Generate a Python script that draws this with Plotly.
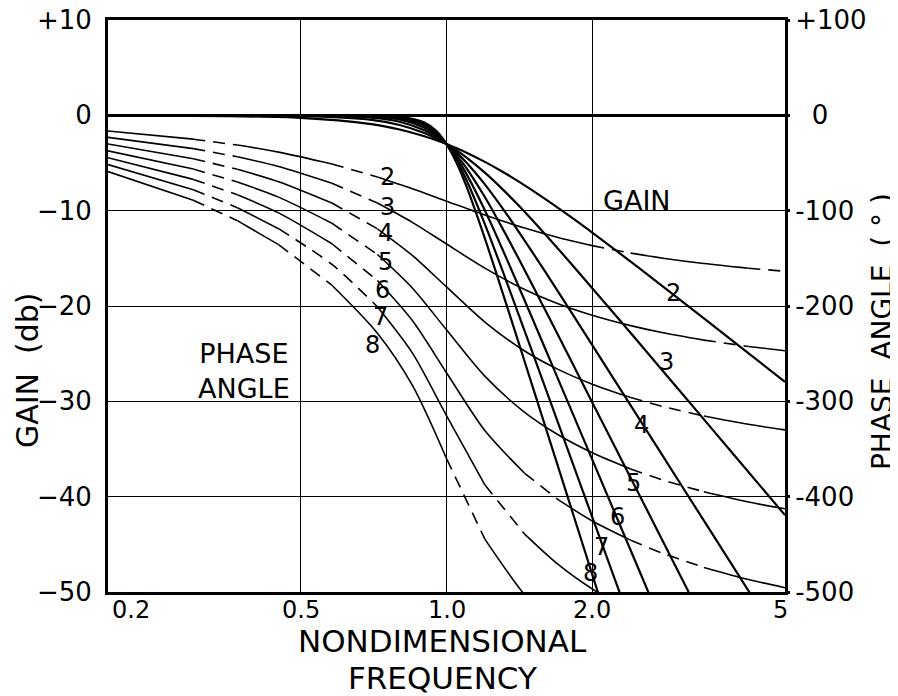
import math
import plotly.graph_objects as go

# ---------------- data ----------------
ORDERS = [2, 3, 4, 5, 6, 7, 8]

# Gain curves (dB) vs nondimensional frequency
GAIN_FREQ = [0.2, 0.5, 0.7, 0.8, 0.9, 0.95, 1.0, 1.05, 1.1, 1.2, 1.3, 1.4, 1.6, 1.8, 2.0, 2.5, 3.0, 4.0, 5.0]
GAIN_2 = [-0.01, -0.26, -0.93, -1.49, -2.19, -2.59, -3.01, -3.46, -3.92, -4.88, -5.86, -6.85, -8.78, -10.60, -12.30, -16.03, -19.14, -24.10, -27.97]
GAIN_3 = [0.0, -0.07, -0.48, -1.01, -1.85, -2.39, -3.01, -3.69, -4.43, -6.01, -7.66, -9.31, -12.50, -15.44, -18.13, -23.89, -28.63, -36.13, -41.94]
GAIN_4 = [0.0, -0.02, -0.24, -0.67, -1.56, -2.21, -3.01, -3.94, -4.97, -7.24, -9.62, -11.98, -16.43, -20.46, -24.10, -31.84, -38.17, -48.16, -55.92]
GAIN_5 = [0.0, 0.0, -0.12, -0.44, -1.30, -2.04, -3.01, -4.20, -5.56, -8.57, -11.70, -14.76, -20.45, -25.54, -30.11, -39.79, -47.71, -60.21]
GAIN_6 = [0.0, 0.0, -0.06, -0.29, -1.08, -1.88, -3.01, -4.47, -6.17, -9.96, -13.86, -17.61, -24.51, -30.64, -36.12, -47.75, -57.25]
GAIN_7 = [0.0, 0.0, -0.03, -0.19, -0.90, -1.73, -3.01, -4.74, -6.81, -11.41, -16.06, -20.50, -28.58, -35.74, -42.14, -55.71]
GAIN_8 = [0.0, 0.0, -0.01, -0.12, -0.74, -1.58, -3.01, -5.03, -7.48, -12.90, -18.30, -23.40, -32.66, -40.84, -48.17, -63.67]

# Phase curves (degrees) vs nondimensional frequency
PHASE_FREQ = [0.2, 0.3, 0.37, 0.45, 0.58, 0.72, 0.85, 1.0, 1.2, 1.45, 1.7, 2.0, 2.4, 2.8, 3.4, 4.2, 5.0]
PHASE_2 = [-16.4, -25.0, -31.2, -38.6, -51.0, -64.7, -77.0, -90.0, -104.5, -118.3, -128.2, -136.7, -144.5, -149.9, -155.5, -160.4, -163.6]
PHASE_3 = [-23.1, -34.9, -43.5, -53.7, -71.3, -92.0, -112.3, -135.0, -160.3, -182.7, -197.6, -209.7, -220.6, -228.1, -235.8, -242.4, -246.9]
PHASE_4 = [-30.1, -45.5, -56.6, -69.6, -92.0, -119.0, -146.9, -180.0, -216.8, -247.2, -266.5, -282.0, -295.9, -305.5, -315.4, -324.1, -329.9]
PHASE_5 = [-37.3, -56.3, -69.9, -85.8, -113.2, -146.0, -181.1, -225.0, -273.6, -311.5, -335.0, -353.9, -370.9, -382.6, -394.8, -405.5, -412.7]
PHASE_6 = [-44.5, -67.2, -83.4, -102.3, -134.7, -173.3, -215.2, -270.0, -330.6, -375.5, -403.1, -425.5, -445.6, -459.6, -474.2, -486.9, -495.5]
PHASE_7 = [-51.7, -78.1, -96.9, -118.9, -156.4, -200.8, -249.2, -315.0, -387.6, -439.3, -471.1, -496.9, -520.3]
PHASE_8 = [-59.0, -89.1, -110.5, -135.6, -178.2, -228.5, -283.1, -360.0, -444.5, -503.0, -539.0]

GAIN_TICKS = [-50, -40, -30, -20, -10, 0, 10]
GAIN_TICK_TEXT = ["\u221250", "\u221240", "\u221230", "\u221220", "\u221210", "0", "+10"]
PHASE_TICKS = [-500, -400, -300, -200, -100, 0, 100]
PHASE_TICK_TEXT = ["-500", "-400", "-300", "-200", "-100", "\u00a0\u00a00", "+100"]
FREQ_TICKS = [0.2, 0.5, 1.0, 2.0, 5.0]
FREQ_TICK_TEXT = ["0.2", "0.5", "1.0", "2.0", "5"]

GAINS = {2: GAIN_2, 3: GAIN_3, 4: GAIN_4, 5: GAIN_5, 6: GAIN_6, 7: GAIN_7, 8: GAIN_8}
PHASES = {2: PHASE_2, 3: PHASE_3, 4: PHASE_4, 5: PHASE_5, 6: PHASE_6, 7: PHASE_7, 8: PHASE_8}

# ---------------- styling (where the drafted phase lines are broken) ----------------
PHASE_DASHED = {
    2: [(0.3, 0.37), (0.58, 0.72), (2.0, 2.4), (4.2, 5.0)],
    3: [(0.3, 0.37), (0.58, 0.72), (3.4, 4.2)],
    4: [(0.3, 0.37), (0.58, 0.72), (2.4, 3.4)],
    5: [(0.3, 0.37), (0.58, 0.72), (2.4, 3.4)],
    6: [(0.3, 0.37), (0.58, 0.72), (1.45, 1.7), (2.4, 3.4)],
    7: [(0.3, 0.37), (0.45, 0.72), (1.2, 1.45)],
    8: [(0.3, 0.37), (0.45, 0.58), (1.0, 1.2)],
}

# label positions (frequency, gain dB / phase deg)
PHASE_LABEL_POS = {2: (0.754, -65), 3: (0.757, -96), 4: (0.747, -123), 5: (0.747, -154),
                   6: (0.739, -183), 7: (0.729, -212), 8: (0.705, -241)}
GAIN_LABEL_POS = {2: (2.94, -18.6), 3: (2.85, -25.9), 4: (2.53, -32.5), 5: (2.43, -38.6),
                  6: (2.26, -42.1), 7: (2.09, -45.3), 8: (1.98, -48.0)}
# frequency tick labels at the plot ends are nudged inward, as drawn
FREQ_LABEL_X = {0.2: 0.223, 0.5: 0.5, 1.0: 1.0, 2.0: 2.0, 5.0: 4.9}

FONT = "DejaVu Sans"
BLACK = "#000000"
LABEL_SIZE = 24

fig = go.Figure()

# gain curves
for n in ORDERS:
    vals = GAINS[n]
    fig.add_trace(go.Scatter(
        x=GAIN_FREQ[:len(vals)], y=vals, mode="lines",
        line=dict(color=BLACK, width=2.2, shape="spline", smoothing=0.8),
        yaxis="y", hoverinfo="skip", showlegend=False))


def split_segments(freqs, vals, dashed):
    cuts = [0]
    for lo, hi in dashed:
        for b in (lo, hi):
            if b in freqs:
                i = freqs.index(b)
                if 0 < i < len(freqs) - 1:
                    cuts.append(i)
    cuts.append(len(freqs) - 1)
    cuts = sorted(set(cuts))
    segs = []
    for a, b in zip(cuts[:-1], cuts[1:]):
        is_dash = any(lo <= freqs[a] and freqs[b] <= hi for lo, hi in dashed)
        segs.append((freqs[a:b + 1], vals[a:b + 1], is_dash))
    return segs


# phase curves
for n in ORDERS:
    vals = PHASES[n]
    freqs = PHASE_FREQ[:len(vals)]
    for xs, ys, is_dash in split_segments(freqs, vals, PHASE_DASHED[n]):
        fig.add_trace(go.Scatter(
            x=xs, y=ys, mode="lines", yaxis="y2",
            line=dict(color=BLACK, width=1.6, shape="spline", smoothing=0.8,
                      dash="12px,8px" if is_dash else "solid"),
            hoverinfo="skip", showlegend=False))

annotations = []
for n in ORDERS:
    fx, py = PHASE_LABEL_POS[n]
    annotations.append(dict(x=math.log10(fx), y=py, xref="x", yref="y2", text=str(n),
                            showarrow=False, font=dict(family=FONT, size=LABEL_SIZE, color=BLACK),
                            xanchor="center", yanchor="middle", borderpad=0))
    fx, gy = GAIN_LABEL_POS[n]
    annotations.append(dict(x=math.log10(fx), y=gy, xref="x", yref="y", text=str(n),
                            showarrow=False, font=dict(family=FONT, size=LABEL_SIZE, color=BLACK),
                            xanchor="center", yanchor="middle", borderpad=0))

# frequency tick labels
for tv, tt in zip(FREQ_TICKS, FREQ_TICK_TEXT):
    annotations.append(dict(x=math.log10(FREQ_LABEL_X[tv]), y=-0.031, xref="x", yref="paper",
                            text=tt, showarrow=False, font=dict(family=FONT, size=24, color=BLACK),
                            xanchor="center", yanchor="middle", borderpad=0))

# x-axis title (two centred lines)
annotations.append(dict(x=0.4948, y=-0.0857, xref="paper", yref="paper", text="NONDIMENSIONAL",
                        showarrow=False, font=dict(family=FONT, size=31, color=BLACK),
                        xanchor="center", yanchor="middle", borderpad=0))
annotations.append(dict(x=0.4948, y=-0.1504, xref="paper", yref="paper", text="FREQUENCY",
                        showarrow=False, font=dict(family=FONT, size=31, color=BLACK),
                        xanchor="center", yanchor="middle", borderpad=0))

annotations.append(dict(x=math.log10(2.474), y=-8.9, xref="x", yref="y", text="GAIN",
                        showarrow=False, font=dict(family=FONT, size=27, color=BLACK),
                        xanchor="center", yanchor="middle"))
annotations.append(dict(x=math.log10(0.382), y=-26.8, xref="x", yref="y", text="PHASE<br>ANGLE",
                        showarrow=False, font=dict(family=FONT, size=27, color=BLACK),
                        xanchor="center", yanchor="middle", align="center"))
annotations.append(dict(x=-0.1196, y=0.388, xref="paper", yref="paper",
                        text="GAIN\u00a0\u00a0(db)", textangle=-90, showarrow=False,
                        font=dict(family=FONT, size=30, color=BLACK),
                        xanchor="center", yanchor="middle"))
annotations.append(dict(x=1.1433, y=0.4545, xref="paper", yref="paper",
                        text="PHASE\u00a0\u00a0ANGLE\u00a0\u00a0(\u00a0\u00b0\u00a0)", textangle=-90,
                        showarrow=False, font=dict(family=FONT, size=28, color=BLACK),
                        xanchor="center", yanchor="middle"))

# the page adds an 8px body margin, so the figure is 8px smaller than the window
fig.update_layout(
    width=890, height=688,
    margin=dict(l=100, r=113, t=12, b=104, autoexpand=False),
    paper_bgcolor="white", plot_bgcolor="white",
    showlegend=False,
    font=dict(family=FONT, color=BLACK),
    xaxis=dict(
        type="log", range=[math.log10(0.2), math.log10(5.0)], automargin=False,
        tickmode="array", tickvals=FREQ_TICKS, showticklabels=False,
        showgrid=True, gridcolor=BLACK, gridwidth=1.3,
        showline=True, linecolor=BLACK, linewidth=3, mirror=True,
        ticks="", zeroline=False,
    ),
    yaxis=dict(
        range=[-50, 10], tickmode="array", tickvals=GAIN_TICKS, ticktext=GAIN_TICK_TEXT,
        tickfont=dict(family=FONT, size=26, color=BLACK), automargin=False,
        ticklabeloverflow="allow",
        showgrid=True, gridcolor=BLACK, gridwidth=1.3,
        zeroline=True, zerolinecolor=BLACK, zerolinewidth=2.6,
        showline=True, linecolor=BLACK, linewidth=3, mirror=True,
        ticks="", ticklabelstandoff=8,
    ),
    yaxis2=dict(
        range=[-500, 100], overlaying="y", side="right", automargin=False,
        ticklabeloverflow="allow",
        tickmode="array", tickvals=PHASE_TICKS, ticktext=PHASE_TICK_TEXT,
        tickfont=dict(family=FONT, size=26, color=BLACK),
        showgrid=False, zeroline=False, showline=False,
        ticks="outside", ticklen=4, tickwidth=2.5, tickcolor=BLACK, ticklabelstandoff=0,
    ),
    annotations=annotations,
)

fig.write_html("out.html")
